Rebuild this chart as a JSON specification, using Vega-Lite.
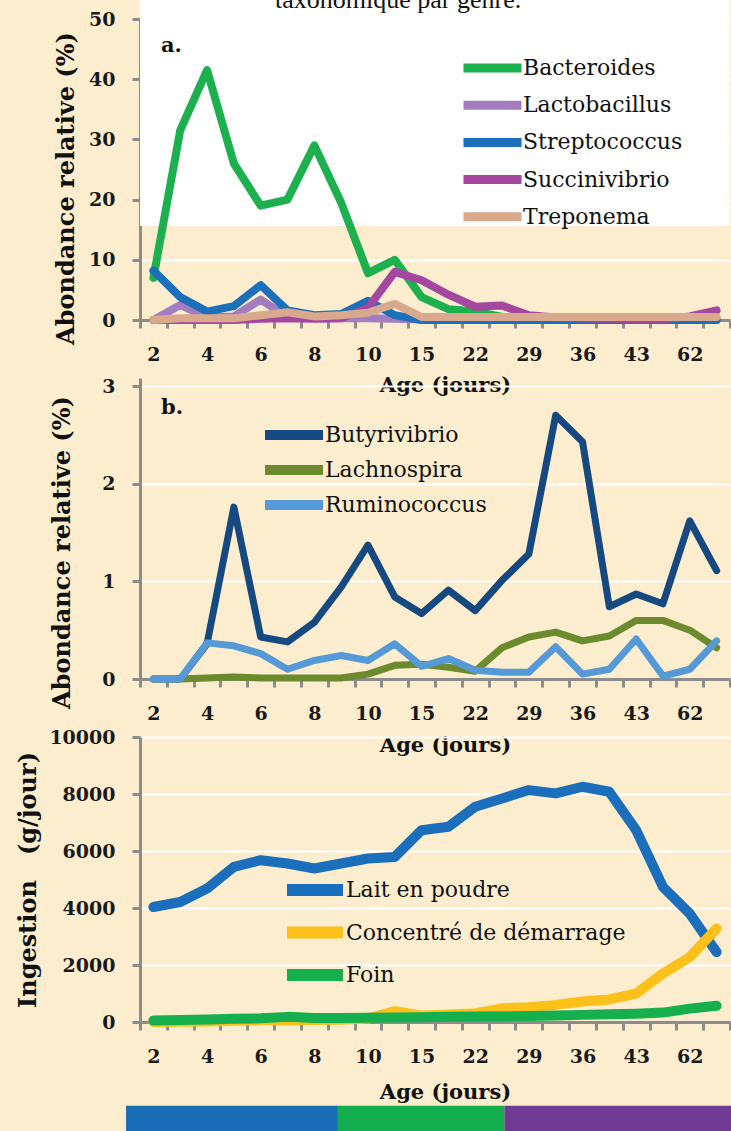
{
  "$schema": "https://vega.github.io/schema/vega-lite/v6.json",
  "background": "#FCEDCF",
  "padding": {"left": 16, "top": -14, "right": 1, "bottom": 0},
  "title": {"text": "taxonomique par genre.", "font": "Liberation Serif", "fontSize": 26, "fontWeight": "normal", "color": "#111111", "baseline": "alphabetic", "offset": -36, "anchor": "middle", "dx": 22},
  "datasets": {
    "a": [
      {"age": 2, "Bacteroides": 7, "Lactobacillus": 0, "Streptococcus": 8.2, "Succinivibrio": 0, "Treponema": 0},
      {"age": 3, "Bacteroides": 31.5, "Lactobacillus": 2.5, "Streptococcus": 3.8, "Succinivibrio": 0, "Treponema": 0.3},
      {"age": 4, "Bacteroides": 41.5, "Lactobacillus": 0.4, "Streptococcus": 1.4, "Succinivibrio": 0, "Treponema": 0.3},
      {"age": 5, "Bacteroides": 26, "Lactobacillus": 0.6, "Streptococcus": 2.3, "Succinivibrio": 0, "Treponema": 0.3},
      {"age": 6, "Bacteroides": 19, "Lactobacillus": 3.4, "Streptococcus": 5.8, "Succinivibrio": 0.2, "Treponema": 0.8},
      {"age": 7, "Bacteroides": 20, "Lactobacillus": 0.4, "Streptococcus": 1.6, "Succinivibrio": 0.3, "Treponema": 1.3},
      {"age": 8, "Bacteroides": 29, "Lactobacillus": 0.3, "Streptococcus": 0.8, "Succinivibrio": 0.2, "Treponema": 0.6},
      {"age": 9, "Bacteroides": 19.5, "Lactobacillus": 0.3, "Streptococcus": 1.0, "Succinivibrio": 0.3, "Treponema": 0.8},
      {"age": 10, "Bacteroides": 7.8, "Lactobacillus": 0.3, "Streptococcus": 3.2, "Succinivibrio": 2, "Treponema": 1.2},
      {"age": 12, "Bacteroides": 10, "Lactobacillus": 0.2, "Streptococcus": 0.8, "Succinivibrio": 8, "Treponema": 2.7},
      {"age": 15, "Bacteroides": 3.8, "Lactobacillus": 0.1, "Streptococcus": 0, "Succinivibrio": 6.6, "Treponema": 0.5},
      {"age": 18, "Bacteroides": 1.8, "Lactobacillus": 0, "Streptococcus": 0, "Succinivibrio": 4.2, "Treponema": 0.5},
      {"age": 22, "Bacteroides": 1.4, "Lactobacillus": 0, "Streptococcus": 0, "Succinivibrio": 2.2, "Treponema": 0.5},
      {"age": 25, "Bacteroides": 0.5, "Lactobacillus": 0, "Streptococcus": 0, "Succinivibrio": 2.4, "Treponema": 0.5},
      {"age": 29, "Bacteroides": 0, "Lactobacillus": 0, "Streptococcus": 0, "Succinivibrio": 0.8, "Treponema": 0.5},
      {"age": 32, "Bacteroides": 0, "Lactobacillus": 0, "Streptococcus": 0, "Succinivibrio": 0.4, "Treponema": 0.5},
      {"age": 36, "Bacteroides": 0, "Lactobacillus": 0, "Streptococcus": 0, "Succinivibrio": 0.3, "Treponema": 0.5},
      {"age": 39, "Bacteroides": 0, "Lactobacillus": 0, "Streptococcus": 0, "Succinivibrio": 0.2, "Treponema": 0.5},
      {"age": 43, "Bacteroides": 0, "Lactobacillus": 0, "Streptococcus": 0, "Succinivibrio": 0.1, "Treponema": 0.5},
      {"age": 50, "Bacteroides": 0, "Lactobacillus": 0, "Streptococcus": 0, "Succinivibrio": 0.1, "Treponema": 0.5},
      {"age": 62, "Bacteroides": 0, "Lactobacillus": 0, "Streptococcus": 0, "Succinivibrio": 0.6, "Treponema": 0.5},
      {"age": 70, "Bacteroides": 0, "Lactobacillus": 0, "Streptococcus": 0, "Succinivibrio": 1.6, "Treponema": 0.5}
    ],
    "b": [
      {"age": 2, "Butyrivibrio": 0, "Lachnospira": 0, "Ruminococcus": 0},
      {"age": 3, "Butyrivibrio": 0, "Lachnospira": 0, "Ruminococcus": 0},
      {"age": 4, "Butyrivibrio": 0.36, "Lachnospira": 0.01, "Ruminococcus": 0.37},
      {"age": 5, "Butyrivibrio": 1.76, "Lachnospira": 0.02, "Ruminococcus": 0.34},
      {"age": 6, "Butyrivibrio": 0.43, "Lachnospira": 0.01, "Ruminococcus": 0.26},
      {"age": 7, "Butyrivibrio": 0.38, "Lachnospira": 0.01, "Ruminococcus": 0.1},
      {"age": 8, "Butyrivibrio": 0.58, "Lachnospira": 0.01, "Ruminococcus": 0.19},
      {"age": 9, "Butyrivibrio": 0.94, "Lachnospira": 0.01, "Ruminococcus": 0.24},
      {"age": 10, "Butyrivibrio": 1.37, "Lachnospira": 0.05, "Ruminococcus": 0.19},
      {"age": 12, "Butyrivibrio": 0.84, "Lachnospira": 0.14, "Ruminococcus": 0.36},
      {"age": 15, "Butyrivibrio": 0.67, "Lachnospira": 0.15, "Ruminococcus": 0.13},
      {"age": 18, "Butyrivibrio": 0.91, "Lachnospira": 0.12, "Ruminococcus": 0.21},
      {"age": 22, "Butyrivibrio": 0.7, "Lachnospira": 0.08, "Ruminococcus": 0.09},
      {"age": 25, "Butyrivibrio": 1.01, "Lachnospira": 0.32, "Ruminococcus": 0.07},
      {"age": 29, "Butyrivibrio": 1.28, "Lachnospira": 0.43, "Ruminococcus": 0.07},
      {"age": 32, "Butyrivibrio": 2.7, "Lachnospira": 0.48, "Ruminococcus": 0.33},
      {"age": 36, "Butyrivibrio": 2.43, "Lachnospira": 0.39, "Ruminococcus": 0.05},
      {"age": 39, "Butyrivibrio": 0.74, "Lachnospira": 0.44, "Ruminococcus": 0.1},
      {"age": 43, "Butyrivibrio": 0.87, "Lachnospira": 0.6, "Ruminococcus": 0.41},
      {"age": 50, "Butyrivibrio": 0.77, "Lachnospira": 0.6, "Ruminococcus": 0.03},
      {"age": 62, "Butyrivibrio": 1.62, "Lachnospira": 0.5, "Ruminococcus": 0.1},
      {"age": 70, "Butyrivibrio": 1.11, "Lachnospira": 0.32, "Ruminococcus": 0.39}
    ],
    "c": [
      {"age": 2, "Lait en poudre": 4035, "Concentré de démarrage": 0, "Foin": 50},
      {"age": 3, "Lait en poudre": 4211, "Concentré de démarrage": 10, "Foin": 70},
      {"age": 4, "Lait en poudre": 4682, "Concentré de démarrage": 20, "Foin": 90},
      {"age": 5, "Lait en poudre": 5441, "Concentré de démarrage": 40, "Foin": 110},
      {"age": 6, "Lait en poudre": 5677, "Concentré de démarrage": 60, "Foin": 130},
      {"age": 7, "Lait en poudre": 5560, "Concentré de démarrage": 60, "Foin": 180},
      {"age": 8, "Lait en poudre": 5385, "Concentré de démarrage": 70, "Foin": 140},
      {"age": 9, "Lait en poudre": 5560, "Concentré de démarrage": 80, "Foin": 140},
      {"age": 10, "Lait en poudre": 5736, "Concentré de démarrage": 120, "Foin": 150},
      {"age": 12, "Lait en poudre": 5793, "Concentré de démarrage": 380, "Foin": 160},
      {"age": 15, "Lait en poudre": 6731, "Concentré de démarrage": 230, "Foin": 170},
      {"age": 18, "Lait en poudre": 6848, "Concentré de démarrage": 260, "Foin": 180},
      {"age": 22, "Lait en poudre": 7550, "Concentré de démarrage": 300, "Foin": 190},
      {"age": 25, "Lait en poudre": 7845, "Concentré de démarrage": 480, "Foin": 200},
      {"age": 29, "Lait en poudre": 8137, "Concentré de démarrage": 520, "Foin": 210},
      {"age": 32, "Lait en poudre": 8021, "Concentré de démarrage": 600, "Foin": 230},
      {"age": 36, "Lait en poudre": 8254, "Concentré de démarrage": 720, "Foin": 250},
      {"age": 39, "Lait en poudre": 8078, "Concentré de démarrage": 790, "Foin": 270},
      {"age": 43, "Lait en poudre": 6731, "Concentré de démarrage": 1000, "Foin": 290},
      {"age": 50, "Lait en poudre": 4738, "Concentré de démarrage": 1700, "Foin": 330},
      {"age": 62, "Lait en poudre": 3803, "Concentré de démarrage": 2280, "Foin": 470},
      {"age": 70, "Lait en poudre": 2453, "Concentré de démarrage": 3280, "Foin": 570}
    ]
  },
  "spacing": 58,
  "bounds": "flush",
  "resolve": {"scale": {"x": "independent", "y": "independent", "color": "independent"}, "legend": {"color": "independent"}},
  "vconcat": [
    {
      "width": 590,
      "height": 301,
      "layer": [
        {
          "data": {"values": [{}]},
          "mark": {"type": "rect", "color": "#FFFFFF", "clip": false},
          "encoding": {
            "y": {"datum": 15.6, "type": "quantitative", "scale": {"domain": [0, 50], "nice": false}},
            "y2": {"datum": 53.5}
          }
        },
        {
          "data": {"name": "a"},
          "transform": [{"fold": ["Bacteroides", "Lactobacillus", "Streptococcus", "Succinivibrio", "Treponema"], "as": ["genre", "valeur"]}],
          "mark": {"type": "line", "strokeWidth": 8, "strokeCap": "round", "strokeJoin": "round"},
          "encoding": {
            "x": {"field": "age", "type": "ordinal", "bandPosition": 0.5, "title": "Age (jours)",
              "scale": {"type": "band", "paddingInner": 0, "paddingOuter": 0},
              "axis": {"labelExpr": "indexof([2,4,6,8,10,15,22,29,36,43,62], datum.value) >= 0 ? datum.label : ''", "labelOverlap": false, "tickBand": "extent", "titlePadding": 10.5, "titleX": 305}},
            "y": {"field": "valeur", "type": "quantitative", "title": "Abondance relative (%)",
              "scale": {"domain": [0, 50], "nice": false},
              "axis": {"values": [0, 10, 20, 30, 40, 50], "format": "d", "titlePadding": 10, "titleY": 169}},
            "color": {"field": "genre", "type": "nominal",
              "scale": {"domain": ["Bacteroides", "Lactobacillus", "Streptococcus", "Succinivibrio", "Treponema"], "range": ["#1CB04E", "#A27DC0", "#1C6FB9", "#A4479F", "#D8A98C"]},
              "legend": {"title": null, "orient": "none", "legendX": 319, "legendY": 38, "symbolSize": 3364, "symbolStrokeWidth": 9, "rowPadding": 15.2}}
          }
        },
        {
          "data": {"values": [{"panneau": "a."}]},
          "mark": {"type": "text", "align": "left", "baseline": "middle", "dx": 21, "font": "DejaVu Serif", "fontWeight": "bold", "fontSize": 21, "color": "#111111"},
          "encoding": {
            "text": {"field": "panneau"},
            "x": {"datum": 2, "type": "ordinal", "bandPosition": 0},
            "y": {"datum": 45.5, "type": "quantitative"}
          }
        }
      ]
    },
    {
      "width": 590,
      "height": 301,
      "layer": [
        {
          "data": {"name": "b"},
          "transform": [{"fold": ["Butyrivibrio", "Lachnospira", "Ruminococcus"], "as": ["genre", "valeur"]}],
          "mark": {"type": "line", "strokeWidth": 7, "strokeCap": "round", "strokeJoin": "round"},
          "encoding": {
            "x": {"field": "age", "type": "ordinal", "bandPosition": 0.5, "title": "Age (jours)",
              "scale": {"type": "band", "paddingInner": 0, "paddingOuter": 0},
              "axis": {"labelExpr": "indexof([2,4,6,8,10,15,22,29,36,43,62], datum.value) >= 0 ? datum.label : ''", "labelOverlap": false, "tickBand": "extent", "titlePadding": 11.5, "titleX": 305}},
            "y": {"field": "valeur", "type": "quantitative", "title": "Abondance relative (%)",
              "scale": {"domain": [0, 3.082], "nice": false},
              "axis": {"values": [0, 1, 2, 3], "format": "d", "titlePadding": 27, "titleY": 174}},
            "color": {"field": "genre", "type": "nominal",
              "scale": {"domain": ["Butyrivibrio", "Lachnospira", "Ruminococcus"], "range": ["#16497F", "#6B8B2E", "#5599D7"]},
              "legend": {"title": null, "orient": "none", "legendX": 120, "legendY": 46, "symbolSize": 3364, "symbolStrokeWidth": 10, "rowPadding": 13}}
          }
        },
        {
          "data": {"values": [{"panneau": "b."}]},
          "mark": {"type": "text", "align": "left", "baseline": "middle", "dx": 21, "font": "DejaVu Serif", "fontWeight": "bold", "fontSize": 21, "color": "#111111"},
          "encoding": {
            "text": {"field": "panneau"},
            "x": {"datum": 2, "type": "ordinal", "bandPosition": 0},
            "y": {"datum": 2.77, "type": "quantitative"}
          }
        }
      ]
    },
    {
      "width": 590,
      "height": 285,
      "data": {"name": "c"},
      "transform": [{"fold": ["Lait en poudre", "Concentré de démarrage", "Foin"], "as": ["aliment", "valeur"]}],
      "mark": {"type": "line", "strokeWidth": 10, "strokeCap": "round", "strokeJoin": "round"},
      "encoding": {
        "x": {"field": "age", "type": "ordinal", "bandPosition": 0.5, "title": "Age (jours)",
          "scale": {"type": "band", "paddingInner": 0, "paddingOuter": 0},
          "axis": {"labelExpr": "indexof([2,4,6,8,10,15,22,29,36,43,62], datum.value) >= 0 ? datum.label : ''", "labelOverlap": false, "tickBand": "extent", "titlePadding": 15.5, "titleX": 305}},
        "y": {"field": "valeur", "type": "quantitative", "title": "Ingestion\u00a0\u00a0\u00a0(g/jour)",
          "scale": {"domain": [0, 10000], "nice": false},
          "axis": {"values": [0, 2000, 4000, 6000, 8000, 10000], "format": "d", "titlePadding": 8}},
        "color": {"field": "aliment", "type": "nominal",
          "scale": {"domain": ["Lait en poudre", "Concentré de démarrage", "Foin"], "range": ["#1B6EBB", "#FBC01A", "#16AF4E"]},
          "legend": {"title": null, "orient": "none", "legendX": 141, "legendY": 142, "symbolSize": 3136, "symbolStrokeWidth": 12, "rowPadding": 20.5}}
      }
    },
    {
      "width": 590,
      "height": 51.5,
      "data": {"values": [
        {"phase": "1", "ligne": "phases", "debut": -0.52, "fin": 7.38},
        {"phase": "2", "ligne": "phases", "debut": 7.38, "fin": 13.59},
        {"phase": "3", "ligne": "phases", "debut": 13.59, "fin": 22.2}
      ]},
      "mark": {"type": "rect", "clip": false},
      "encoding": {
        "x": {"field": "debut", "type": "quantitative", "scale": {"domain": [0, 22], "nice": false, "zero": false}, "axis": null},
        "x2": {"field": "fin"},
        "y": {"field": "ligne", "type": "nominal", "scale": {"domain": ["", "phases"], "paddingInner": 0, "paddingOuter": 0}, "axis": null},
        "color": {"field": "phase", "type": "nominal", "scale": {"domain": ["1", "2", "3"], "range": ["#196DB6", "#12AE4F", "#6E3A92"]}, "legend": null}
      }
    }
  ],
  "config": {
    "view": {"stroke": null},
    "font": "DejaVu Serif",
    "axis": {"domainColor": "#8C8C8C", "domainWidth": 3, "tickColor": "#8C8C8C", "tickWidth": 3, "tickSize": 8,
      "labelFont": "DejaVu Serif", "labelFontSize": 19, "labelFontWeight": "bold", "labelColor": "#1A1A1A", "labelPadding": 17,
      "titleFont": "DejaVu Serif", "titleFontWeight": "bold", "titleColor": "#111111",
      "gridColor": "#FFFFFF", "gridWidth": 2},
    "axisX": {"grid": false, "titleFontSize": 21, "labelAngle": 0},
    "axisY": {"grid": true, "titleFontSize": 24},
    "legend": {"padding": 0, "symbolType": "stroke", "labelFont": "DejaVu Serif", "labelFontSize": 22, "labelColor": "#111111", "clipHeight": 22, "labelOffset": -3, "labelLimit": 400}
  }
}
